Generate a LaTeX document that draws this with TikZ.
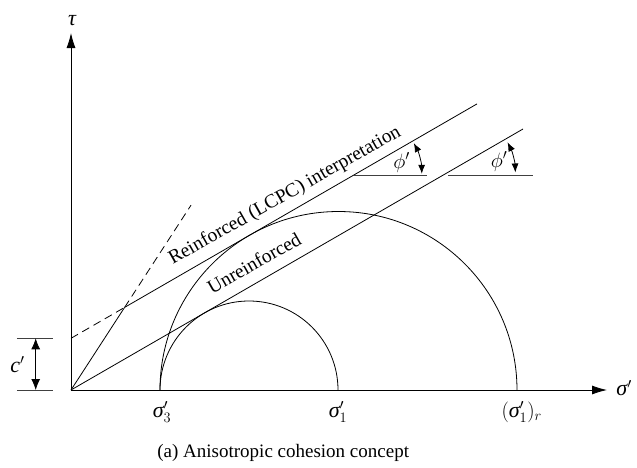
\documentclass[tikz,border=0pt]{standalone}
\usepackage{fontspec}
\setmainfont{Liberation Serif}
\usetikzlibrary{arrows.meta}
\newcommand{\gsig}{\mbox{\itshape σ}}
\begin{document}
\begin{tikzpicture}[x=1pt,y=1pt,line width=0.8pt,
  axisline/.style={-{Latex[length=15pt,width=9pt]}},
  dimarrow/.style={{Latex[length=11pt,width=9pt]}-{Latex[length=11pt,width=9pt]}},
  angarrow/.style={{Latex[length=9pt,width=7pt]}-{Latex[length=9pt,width=7pt]}},
  guide/.style={line width=1pt, black!75},
  lbl/.style={font=\fontsize{22}{26}\selectfont, inner sep=0pt},
  slanted/.style={font=\fontsize{19.5}{23}\selectfont, inner sep=0pt, rotate=29.5},
  dashline/.style={dash pattern=on 8pt off 5pt}
]
\useasboundingbox (-71,-77) rectangle (566,390);
% axes
\coordinate (O) at (0,0);
\coordinate (xend) at (536,0);
\coordinate (yend) at (0,357);
\draw[axisline] (O) -- (xend);
\draw[axisline] (O) -- (yend);
\node[lbl, anchor=west] (sig) at (545,2) {$\gsig'$};
\node[lbl] (tau) at (1,369) {\itshape τ};
% Mohr circles
\coordinate (s3) at (89,0);
\coordinate (s1) at (267,0);
\coordinate (s1r) at (446,0);
\draw (s3) arc[start angle=180,end angle=0,radius=89];
\draw (s3) arc[start angle=180,end angle=0,radius=178.5];
% envelopes
\coordinate (c) at (0,51.7);
\coordinate (P) at (53.6,82.6);
\coordinate (Rend) at (406,286.1);
\coordinate (Uend) at (452,261);
\coordinate (Dend) at (120,184.8);
\draw (O) -- (P);
\draw[dashline] (c) -- (P);
\draw[dashline] (P) -- (Dend);
\draw (P) -- (Rend);
\draw (O) -- (Uend);
\node[slanted] (rlab) at (214,194) {Reinforced (LCPC) interpretation};
\node[slanted] (ulab) at (183,127) {Unreinforced};
% friction angle markers
\coordinate (A1) at (282.8,215);
\coordinate (H1) at (356,215);
\draw[guide] (A1) -- (H1);
\draw[angarrow] ([shift={(1:68)}]A1) arc[start angle=1,end angle=28,radius=68];
\node[lbl] (phi1) at (330.7,227.5) {$\phi'$};
\coordinate (A2) at (372.4,215);
\coordinate (G2) at (377,215);
\coordinate (H2) at (462,215);
\draw[guide] (G2) -- (H2);
\draw[angarrow] ([shift={(2:72)}]A2) arc[start angle=2,end angle=27,radius=72];
\node[lbl] (phi2) at (428,228.3) {$\phi'$};
% cohesion dimension
\coordinate (cl1) at (-54,0);
\coordinate (cl2) at (-18,0);
\coordinate (ct1) at (-54,51.7);
\coordinate (ct2) at (-18,51.7);
\draw[guide] (cl1) -- (cl2);
\draw[guide] (ct1) -- (ct2);
\coordinate (da) at (-35.3,0);
\coordinate (db) at (-35.3,51.7);
\draw[dimarrow] (db) -- (da);
\node[lbl] (cp) at (-53.5,25.5) {\itshape c$'$};
% axis labels
\node[lbl] (l3) at (91,-22) {$\gsig'_3$};
\node[lbl] (l1) at (267,-22) {$\gsig'_1$};
\node[lbl] (lr) at (450.7,-22) {$(\gsig'_1)_r$};
% caption
\node[font=\fontsize{19}{23}\selectfont, inner sep=0pt, anchor=west] (cap) at (86,-63) {(a) Anisotropic cohesion concept};
\end{tikzpicture}
\end{document}
